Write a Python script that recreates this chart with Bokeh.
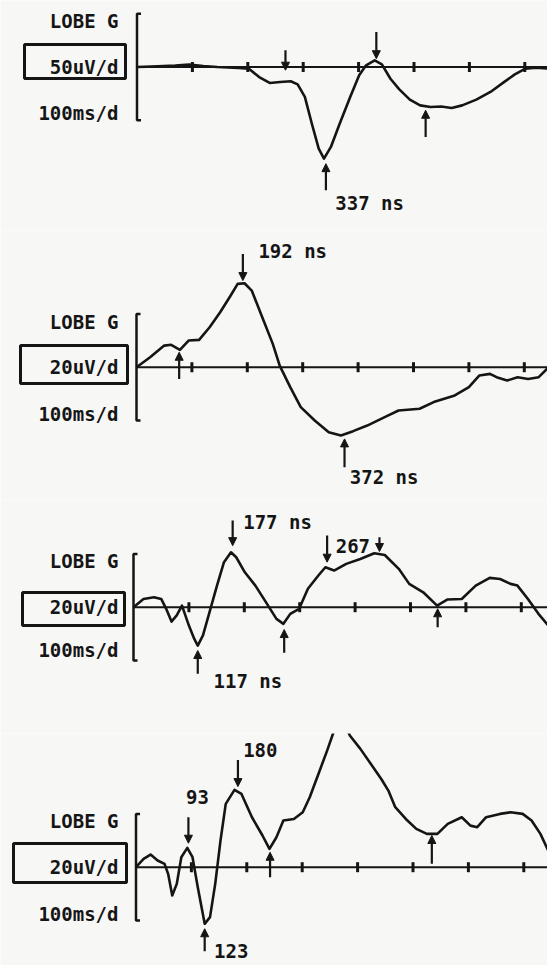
import math
from bokeh.plotting import figure
from bokeh.layouts import column
from bokeh.models import ColumnDataSource, Arrow, NormalHead, Label, Range1d
from bokeh.embed import file_html
from bokeh.resources import INLINE

# ---------------- data (time in ms, amplitude in uV) ----------------
tick_ms = [100, 200, 300, 400, 500, 600, 700]
scale_labels = ["50uV/d", "20uV/d", "20uV/d", "20uV/d"]
uv_per_div = [50, 20, 20, 20]
site_label = "LOBE G"
time_label = "100ms/d"

p1_t = [0, 37, 69, 94, 119.5, 145, 183, 202, 220.5, 239.5, 258.5, 277.5, 290, 303, 315.5,
        328, 337.5, 350, 366, 385, 401, 413.5, 429, 442, 457.5, 473.5, 492.5, 511, 530, 549,
        568, 587, 612.5, 638, 663, 682, 701, 720, 744]
p1_uv = [0, 0.6, 1.3, 2.2, 0.9, 0, -0.9, -1.6, -9.4, -15, -14, -13.4, -16.3, -28, -53,
         -76.6, -86, -75, -53, -28, -7.8, 1.6, 6.25, 2.5, -11, -21, -30.6, -36, -37.5, -37,
         -38.4, -36, -30.6, -23.4, -14, -6.9, -1.6, -0.6, -1.6]
p1_arrow_t = [268, 432, 341, 521]
p1_arrow_tail = [15.6, 32.8, -115.7, -65.7]
p1_arrow_tip = [-3, 7.8, -90.7, -40.6]
p1_notes = ["337 ns"]
p1_note_t = [358]
p1_note_uv = [-128]

p2_t = [0, 24.6, 50, 62.6, 78.4, 94, 113, 132, 151, 170, 182.6, 195, 208, 227, 246,
        258.5, 277.5, 296.5, 321.7, 347, 369, 391, 416.5, 448, 473, 511, 536.5, 574.5, 600,
        619, 638, 650, 669, 688, 707, 726, 744]
p2_uv = [0, 3.75, 8.1, 8.4, 6.5, 10, 10.25, 15, 20.6, 26.9, 31.25, 31.5, 28.75, 18.75, 8.75,
         0.6, -7.5, -15, -20, -24.4, -25.6, -24, -21.9, -18.75, -16.25, -15.6, -13.1, -10.6,
         -7.5, -3.1, -2.5, -3.75, -5, -3.75, -4.4, -3.75, 0]
p2_arrow_t = [192, 77, 375.5]
p2_arrow_tail = [42.5, -4.4, -37.5]
p2_arrow_tip = [32.5, 5.6, -26.9]
p2_notes = ["192 ns", "372 ns"]
p2_note_t = [220, 385]
p2_note_uv = [43.75, -41.25]

p3_t = [0, 18, 37, 50, 59, 68.6, 78, 87.5, 100, 109.7, 116, 125.4, 138, 150.7, 163.3, 176,
        185.4, 201, 220, 239, 258, 270.6, 283, 299, 314.8, 333.7, 346.4, 362, 384, 409.4,
        434.6, 453.6, 478.8, 497.7, 523, 548, 567, 592.5, 617.7, 643, 661.7, 680.6, 693,
        712, 731, 749]
p3_uv = [0, 3.1, 3.75, 3.1, -0.6, -5.4, -3.1, 0.6, -6.9, -11.9, -14.4, -10.6, -1.25, 8.1,
         16.9, 20.6, 18.75, 13.1, 8.1, 1.9, -4.4, -6.25, -2.5, -0.6, 6.9, 11.9, 15, 13.75,
         16.25, 18.1, 20.25, 19.6, 14.4, 8.75, 5.6, 0.6, 2.9, 3.1, 8.1, 11, 10.6, 8.75, 8.1,
         3.1, -2.5, -6.9]
p3_arrow_t = [179, 349.5, 444, 116, 272, 549]
p3_arrow_tail = [32.5, 26.9, 26.25, -25, -17.1, -7.5]
p3_arrow_tip = [23.1, 16.9, 20.9, -16.25, -8.4, -0.6]
p3_notes = ["177 ns", "267", "117 ns"]
p3_note_t = [198, 365, 144.5]
p3_note_uv = [31.9, 23.1, -27.75]

p4_t = [0, 13.7, 26.3, 39, 51.5, 58, 65.4, 73.6, 81.8, 92.6, 102, 111.5, 124, 133.6, 143,
        152.5, 162, 177.8, 190.4, 209.3, 228.3, 240.9, 253.5, 266, 285, 301, 313.6, 329.3,
        345, 354.5, 369, 386, 405, 424, 443, 455.5, 468, 487, 506, 525, 544, 562.7, 588,
        603.7, 616, 632, 657, 676, 698, 714, 730, 744]
p4_uv = [0, 3.1, 4.75, 2.5, 1.25, -2.5, -10.6, -6.25, 3.75, 7.25, 3.75, -7.5, -21.25,
         -18.75, -6.25, 10, 23.75, 29, 27.5, 18.75, 11.9, 6.9, 11.25, 17.5, 18.1, 20.6,
         26.25, 35, 43.75, 49.4, 58, 49.4, 44.4, 38.75, 33, 28.75, 22.5, 18.1, 14.4, 12.5,
         12.5, 16.25, 18.75, 15.6, 15, 18.75, 20, 20.6, 20, 17.5, 12.5, 6.25]
p4_arrow_t = [94.6, 184, 124, 242, 534]
p4_arrow_tail = [18.75, 40.25, -31.5, -3.75, 1.25]
p4_arrow_tip = [9, 30.25, -23.1, 5.6, 11.9]
p4_notes = ["93", "180", "123"]
p4_note_t = [111, 193.4, 141]
p4_note_uv = [26.5, 44, -31.3]

# ---------------- layout / style ----------------
W = 547
PX = 55.4   # pixels per 100 ms
V = 53.3    # pixels per vertical division
INK = "#151515"
BG = "#f7f7f5"
FONT = "DejaVu Sans Mono"
FS = "19px"

specs = [
    dict(h=230, b=66.5, x0=136.5, box=(24, 125, 44, 78), lobe=20, ms=112,
         note_align=["left"]),
    dict(h=270, b=136.7, x0=136, box=(20, 127, 115, 153), lobe=91, ms=183,
         note_align=["left", "left"]),
    dict(h=233, b=106.7, x0=133, box=(22, 124, 92, 125), lobe=60, ms=149,
         note_align=["left", "left", "left"]),
    dict(h=232, b=133.7, x0=135.5, box=(13, 126, 110, 149), lobe=87.5, ms=180,
         note_align=["center", "left", "left"]),
]

traces = [(p1_t, p1_uv), (p2_t, p2_uv), (p3_t, p3_uv), (p4_t, p4_uv)]
arrows = [(p1_arrow_t, p1_arrow_tail, p1_arrow_tip), (p2_arrow_t, p2_arrow_tail, p2_arrow_tip),
          (p3_arrow_t, p3_arrow_tail, p3_arrow_tip), (p4_arrow_t, p4_arrow_tail, p4_arrow_tip)]
notes = [(p1_notes, p1_note_t, p1_note_uv), (p2_notes, p2_note_t, p2_note_uv),
         (p3_notes, p3_note_t, p3_note_uv), (p4_notes, p4_note_t, p4_note_uv)]

figs = []
for i, s in enumerate(specs):
    d = uv_per_div[i]
    h, b, x0 = s["h"], s["b"], s["x0"]
    xs, xe = -x0 * 100 / PX, (W - x0) * 100 / PX
    ys, ye = -(h - b) * d / V, b * d / V

    def X(px, x0=x0):
        return (px - x0) * 100 / PX

    def Y(py, b=b, d=d):
        return (b - py) * d / V

    p = figure(width=W, height=h, x_range=Range1d(xs, xe), y_range=Range1d(ys, ye),
               toolbar_location=None, output_backend="svg", min_border=0,
               x_axis_location=None, y_axis_location=None)
    p.grid.grid_line_color = None
    p.outline_line_color = None
    p.background_fill_color = BG
    p.border_fill_color = BG

    # scale bracket
    hook = 4 * 100 / PX
    p.line(x=[hook, 0, 0, hook], y=[d, d, -d, -d], line_color=INK, line_width=2.5)
    # baseline and time ticks
    p.segment(x0=[0], y0=[0], x1=[xe], y1=[0], line_color=INK, line_width=2)
    p.scatter(x=tick_ms, y=[0] * len(tick_ms), marker="dash", size=10, angle=math.pi / 2,
              line_color=INK, line_width=3)

    # waveform
    t, uv = traces[i]
    p.line(x=t, y=uv, line_color=INK, line_width=2.6, line_join="round")

    # arrows
    at, atail, atip = arrows[i]
    src = ColumnDataSource(dict(t=at, tail=atail, tip=atip))
    p.add_layout(Arrow(end=NormalHead(size=8, fill_color=INK, line_color=INK, line_width=1),
                       x_start="t", y_start="tail", x_end="t", y_end="tip", source=src,
                       line_color=INK, line_width=2.2))

    # latency notes
    ntext, nt, nuv = notes[i]
    for k, txt in enumerate(ntext):
        p.add_layout(Label(x=nt[k], y=nuv[k], text=txt, text_font=FONT, text_font_size=FS,
                           text_font_style="bold", text_color=INK,
                           text_align=s["note_align"][k], text_baseline="middle"))

    # left-hand labels
    bl, br, bt, bb = s["box"]
    p.quad(left=X(bl), right=X(br), top=Y(bt), bottom=Y(bb), fill_color=None,
           line_color=INK, line_width=3)
    for txt, py in [(site_label, s["lobe"]), (scale_labels[i], b), (time_label, s["ms"])]:
        p.add_layout(Label(x=X(118), y=Y(py), text=txt, text_font=FONT, text_font_size=FS,
                           text_font_style="bold", text_color=INK, text_align="right",
                           text_baseline="middle"))
    figs.append(p)

root = column(*figs, spacing=0)
open("out.html", "w").write(file_html(root, INLINE))
